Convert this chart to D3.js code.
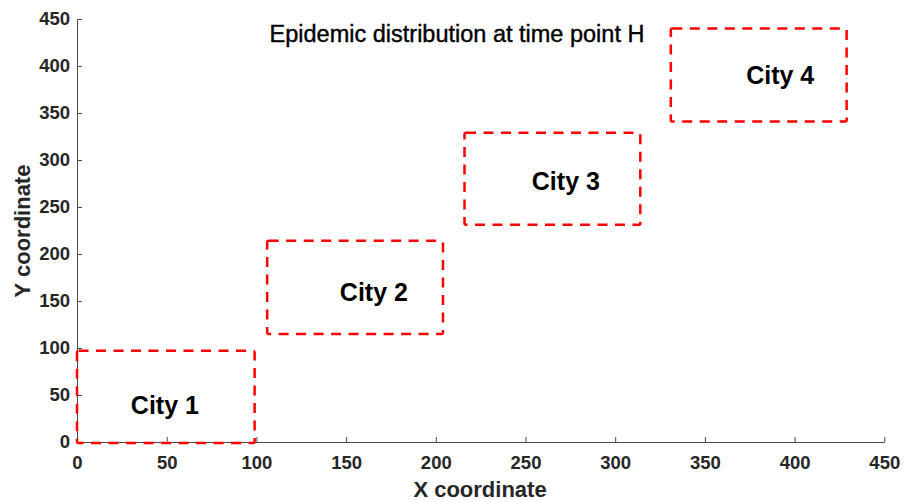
<!DOCTYPE html>
<html>
<head>
<meta charset="utf-8">
<script src="https://cdn.jsdelivr.net/npm/d3@7"></script>
<style>
  body { margin: 0; background: #fff; }
  text { font-family: Arial, "Liberation Sans", sans-serif; }
</style>
</head>
<body>
<div id="chart"></div>
<script>
// city regions (x0, x1, y0, y1) in map coordinates
const cities = ["City 1", "City 2", "City 3", "City 4"]
const xMin = [0, 106, 216, 331]
const xMax = [99, 204, 314, 429]
const yMin = [-1, 115, 231, 341]
const yMax = [97, 214, 329, 440]
const labelX = [49, 165.5, 272.5, 392]
const labelY = [39, 159, 277, 390]

const xTicks = [0, 50, 100, 150, 200, 250, 300, 350, 400, 450]
const yTicks = [0, 50, 100, 150, 200, 250, 300, 350, 400, 450]

const title = "Epidemic distribution at time point H"

const width = 904, height = 502
const margin = {left: 77, right: 20, top: 19, bottom: 60}

const svg = d3.select("#chart")
  .append("svg")
  .attr("width", width)
  .attr("height", height)

const x = d3.scaleLinear().domain([0, 450]).range([margin.left, 884.3])
const y = d3.scaleLinear().domain([0, 450]).range([442, margin.top])

const axisColor = "#4a4a4a"
const labelColor = "#262626"

// x axis, ticks pointing inward
const gx = svg.append("g")
  .attr("transform", `translate(0,${y(0)})`)
  .call(d3.axisBottom(x).tickValues(xTicks).tickSizeInner(-5).tickSizeOuter(0).tickPadding(14))
gx.select(".domain").attr("stroke", axisColor)
gx.selectAll(".tick line").attr("stroke", axisColor)
gx.selectAll(".tick text")
  .attr("fill", labelColor)
  .attr("font-size", "18.5px")
  .attr("font-weight", "bold")

// y axis
const gy = svg.append("g")
  .attr("transform", `translate(${x(0)},0)`)
  .call(d3.axisLeft(y).tickValues(yTicks).tickSizeInner(-5).tickSizeOuter(0).tickPadding(7))
gy.select(".domain").attr("stroke", axisColor)
gy.selectAll(".tick line").attr("stroke", axisColor)
gy.selectAll(".tick text")
  .attr("fill", labelColor)
  .attr("font-size", "18.5px")
  .attr("font-weight", "bold")

// region boxes
svg.append("g")
  .selectAll("rect")
  .data(cities)
  .enter()
  .append("rect")
  .attr("x", (d, i) => x(xMin[i]))
  .attr("y", (d, i) => y(yMax[i]))
  .attr("width", (d, i) => x(xMax[i]) - x(xMin[i]))
  .attr("height", (d, i) => y(yMin[i]) - y(yMax[i]))
  .attr("fill", "none")
  .attr("stroke", "#ff0000")
  .attr("stroke-width", 2.5)
  .attr("stroke-dasharray", "10,7.5")
  .attr("rx", 1.5)

// city names
svg.append("g")
  .selectAll("text")
  .data(cities)
  .enter()
  .append("text")
  .attr("x", (d, i) => x(labelX[i]))
  .attr("y", (d, i) => y(labelY[i]))
  .attr("dy", "0.35em")
  .attr("text-anchor", "middle")
  .attr("font-size", "25px")
  .attr("font-weight", "bold")
  .attr("fill", "#000")
  .text(d => d)

// title
svg.append("text")
  .attr("x", 457)
  .attr("y", 42)
  .attr("text-anchor", "middle")
  .attr("font-size", "23.5px")
  .attr("fill", "#000")
  .attr("stroke", "#000")
  .attr("stroke-width", 0.4)
  .text(title)

// axis titles
svg.append("text")
  .attr("x", 480)
  .attr("y", 497)
  .attr("text-anchor", "middle")
  .attr("font-size", "22px")
  .attr("font-weight", "bold")
  .attr("fill", labelColor)
  .text("X coordinate")

svg.append("text")
  .attr("transform", "translate(30,231) rotate(-90)")
  .attr("text-anchor", "middle")
  .attr("font-size", "22px")
  .attr("font-weight", "bold")
  .attr("fill", labelColor)
  .text("Y coordinate")
</script>
</body>
</html>
